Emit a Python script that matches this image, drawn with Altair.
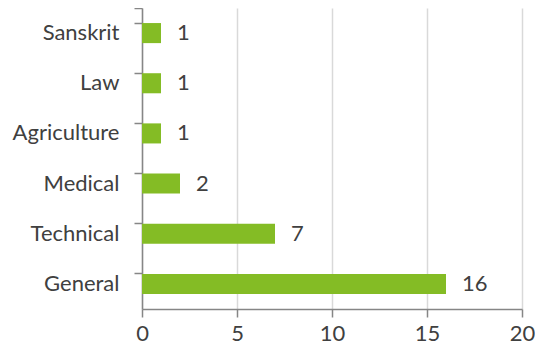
import altair as alt
import pandas as pd

categories = ["Sanskrit", "Law", "Agriculture", "Medical", "Technical", "General"]
values = [1, 1, 1, 2, 7, 16]

df = pd.DataFrame({"category": categories, "value": values})

FONT = "Lato"
TXT = "#404040"
FS = 22

base = alt.Chart(df).encode(
    y=alt.Y("category:N", sort=categories, title=None,
            scale=alt.Scale(paddingInner=0.6, paddingOuter=0.3),
            axis=alt.Axis(bandPosition=0, tickExtra=True,
                          tickSize=8, tickColor="#868686", domainColor="#868686",
                          labelPadding=15, labelFont=FONT, labelFontSize=FS,
                          labelColor=TXT, grid=False, tickWidth=1.5, domainWidth=1.5)),
)

bars = base.mark_bar(color="#84BC25").encode(
    x=alt.X("value:Q", title=None,
            scale=alt.Scale(domain=[0, 20], nice=False),
            axis=alt.Axis(values=[0, 5, 10, 15, 20], tickSize=8, tickColor="#868686",
                          domainColor="#868686", gridColor="#d9d9d9", gridWidth=1.5,
                          labelPadding=6, labelFont=FONT, labelFontSize=FS,
                          labelFlush=False,
                          labelColor=TXT, tickWidth=1.5, domainWidth=1.5)),
)

labels = base.mark_text(align="left", dx=16, font=FONT, fontSize=FS, color=TXT).encode(
    x="value:Q",
    text="value:Q",
)

chart = (bars + labels).properties(
    width=380, height=301,
    autosize="none",
    padding={"left": 134, "top": 0, "right": 13, "bottom": 37},
).configure_view(stroke=None)

chart.save("out.html", embed_options={"renderer": "svg", "actions": False})
